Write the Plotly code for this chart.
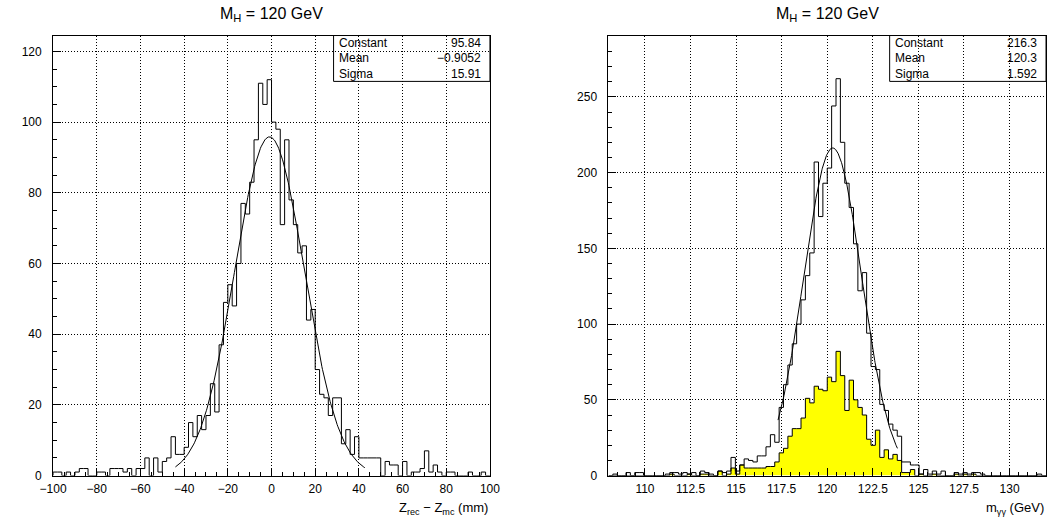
import numpy as np
import plotly.graph_objects as go

# ---------------- data ----------------
# Left: Z_rec - Z_mc (mm), 100 bins of width 2 from -100
z_lo, z_width = -100.0, 2.0
z_counts = [1, 1, 0, 1, 0, 1, 2, 2, 0, 0,
            1, 1, 0, 2, 2, 2, 1, 2, 0, 2,
            2, 5, 0, 5, 1, 4, 5, 11, 6, 6,
            8, 15, 11, 17, 13, 17, 26, 18, 37, 49,
            54, 48, 60, 77, 74, 83, 95, 111, 105, 112,
            100, 98, 71, 95, 78, 71, 63, 65, 44, 47,
            30, 23, 22, 17, 22, 22, 9, 13, 6, 11,
            5, 5, 5, 5, 5, 0, 4, 3, 3, 0,
            4, 0, 1, 1, 2, 7, 1, 3, 1, 0,
            1, 1, 0, 0, 0, 1, 0, 0, 1, 0]

# Right: m_gamma-gamma (GeV), 100 bins of width 0.24 from 108
m_lo, m_width = 108.0, 0.24
m_all = [0, 1, 0, 0, 2, 0, 2, 2, 0, 0,
         0, 0, 0, 1, 2, 2, 1, 2, 1, 2,
         0, 3, 2, 1, 0, 3, 2, 3, 12, 3,
         7, 11, 10, 9, 13, 13, 19, 27, 22, 45,
         60, 73, 87, 100, 116, 132, 147, 207, 171, 193,
         203, 244, 262, 220, 193, 177, 153, 122, 134, 94,
         72, 70, 47, 43, 34, 30, 26, 9, 9, 7,
         7, 1, 4, 1, 3, 1, 3, 0, 0, 2,
         1, 2, 1, 2, 2, 1, 0, 0, 0, 0,
         0, 0, 0, 0, 0, 0, 0, 0, 1, 0]
m_sel = [0, 0, 0, 0, 0, 0, 0, 0, 0, 0,
         0, 0, 0, 0, 1, 0, 0, 0, 1, 0,
         0, 1, 1, 0, 0, 3, 0, 1, 5, 1,
         7, 5, 5, 5, 5, 5, 6, 6, 9, 15,
         18, 26, 31, 31, 38, 51, 48, 59, 57, 56,
         65, 62, 82, 66, 43, 63, 50, 45, 40, 24,
         20, 30, 12, 17, 11, 14, 10, 2, 2, 4,
         0, 1, 0, 0, 1, 0, 0, 0, 0, 1,
         0, 1, 0, 1, 0, 0, 0, 0, 0, 0,
         0, 0, 0, 0, 0, 0, 0, 0, 0, 0]

# Gaussian fit results (as printed in the stat boxes) and drawn ranges
fit_left = {"Constant": 95.84, "Mean": -0.9052, "Sigma": 15.91}
fit_left_range = (-44.0, 42.8)
fit_right = {"Constant": 216.3, "Mean": 120.3, "Sigma": 1.592}
fit_right_range = (117.3, 123.85)

left_stats_text = ["95.84", "\u22120.9052", "15.91"]
right_stats_text = ["216.3", "120.3", "1.592"]
stat_names = ["Constant", "Mean", "Sigma"]

title_text = "M<sub>H</sub> = 120 GeV"
xtitle_left = "Z<sub>rec</sub> \u2212 Z<sub>mc</sub> (mm)"
xtitle_right = "m<sub>\u03b3\u03b3</sub> (GeV)"

# ---------------- helpers ----------------
def step_xy(lo, w, counts):
    edges = lo + w * np.arange(len(counts) + 1)
    x = [edges[0]] + list(edges[:-1]) + [edges[-1], edges[-1]]
    y = [0] + list(counts) + [counts[-1], 0]
    return x, y

def gauss(p, rng, n=300):
    x = np.linspace(rng[0], rng[1], n)
    y = p["Constant"] * np.exp(-0.5 * ((x - p["Mean"]) / p["Sigma"]) ** 2)
    return x, y

W, H = 1057, 527
FONT = "Liberation Sans"
px_l = (40, 487)
px_r = (608.3, 1056)
px_top, px_bot = 36, 482

def fx(p):
    return p / W

def fy(p):
    return (H - p) / H

fig = go.Figure()

xl, yl = step_xy(z_lo, z_width, z_counts)
fig.add_trace(go.Scatter(x=xl, y=yl, mode="lines", line=dict(color="black", width=1, shape="hv"),
                         xaxis="x", yaxis="y", showlegend=False, hoverinfo="skip"))
gx, gy = gauss(fit_left, fit_left_range)
fig.add_trace(go.Scatter(x=gx, y=gy, mode="lines", line=dict(color="black", width=1),
                         xaxis="x", yaxis="y", showlegend=False))

xs, ys = step_xy(m_lo, m_width, m_sel)
fig.add_trace(go.Scatter(x=xs, y=ys, mode="lines", fill="tozeroy", fillcolor="#ffff00",
                         line=dict(color="black", width=1, shape="hv"),
                         xaxis="x2", yaxis="y2", showlegend=False, hoverinfo="skip"))
xa, ya = step_xy(m_lo, m_width, m_all)
fig.add_trace(go.Scatter(x=xa, y=ya, mode="lines", line=dict(color="black", width=1, shape="hv"),
                         xaxis="x2", yaxis="y2", showlegend=False, hoverinfo="skip"))
gx2, gy2 = gauss(fit_right, fit_right_range)
fig.add_trace(go.Scatter(x=gx2, y=gy2, mode="lines", line=dict(color="black", width=1),
                         xaxis="x2", yaxis="y2", showlegend=False))

tickfont = dict(family=FONT, size=12, color="black")
grid = dict(showgrid=True, gridcolor="#000000", gridwidth=1, griddash="1px,2px")
common = dict(showline=True, linecolor="black", linewidth=1, mirror=True, zeroline=False,
              ticks="inside", ticklen=8, tickcolor="black", tickwidth=1, tickfont=tickfont,
              tickmode="linear", **grid)

fig.update_layout(
    width=W, height=H, margin=dict(l=0, r=0, t=0, b=0),
    paper_bgcolor="white", plot_bgcolor="white",
    xaxis=dict(domain=[fx(px_l[0]), fx(px_l[1])], range=[-100, 100], tick0=-100, dtick=20,
               anchor="y", ticklabelstandoff=2,
               minor=dict(tick0=-100, dtick=5, ticks="inside", ticklen=4, tickcolor="black", showgrid=False),
               **common),
    yaxis=dict(domain=[fy(px_bot), fy(px_top)], range=[0, 124.5], tick0=0, dtick=20, anchor="x",
               ticklabelstandoff=8,
               minor=dict(tick0=0, dtick=5, ticks="inside", ticklen=4, tickcolor="black", showgrid=False),
               **common),
    xaxis2=dict(domain=[fx(px_r[0]), fx(px_r[1])], range=[108, 132], tick0=110, dtick=2.5,
                anchor="y2", ticklabelstandoff=2,
                minor=dict(tick0=108, dtick=0.5, ticks="inside", ticklen=4, tickcolor="black", showgrid=False),
                **common),
    yaxis2=dict(domain=[fy(px_bot), fy(px_top)], range=[0, 290.5], tick0=0, dtick=50, anchor="x2",
                ticklabelstandoff=8,
                minor=dict(tick0=0, dtick=10, ticks="inside", ticklen=4, tickcolor="black", showgrid=False),
                **common),
)

annotations = []
shapes = []
for (x0, x1), stats in ((px_l, left_stats_text), (px_r, right_stats_text)):
    cx = (x0 + x1) / 2
    annotations.append(dict(text=title_text, x=fx(cx), y=fy(15), xref="paper", yref="paper",
                            xanchor="center", yanchor="middle", showarrow=False,
                            font=dict(family=FONT, size=16, color="black")))
    bx0 = x1 - 160
    shapes.append(dict(type="rect", xref="paper", yref="paper", x0=fx(bx0), x1=fx(x1),
                       y0=fy(82.5), y1=fy(px_top), line=dict(color="black", width=1),
                       fillcolor="rgba(0,0,0,0)", layer="above"))
    for i, (nm, val) in enumerate(zip(stat_names, stats)):
        yc = 43.8 + 15.4 * i
        annotations.append(dict(text=nm, x=fx(bx0 + 3), y=fy(yc), xref="paper", yref="paper",
                                xanchor="left", yanchor="middle", showarrow=False,
                                font=dict(family=FONT, size=12, color="black")))
        annotations.append(dict(text=val, x=fx(x1 - 7), y=fy(yc), xref="paper", yref="paper",
                                xanchor="right", yanchor="middle", showarrow=False,
                                font=dict(family=FONT, size=12, color="black")))

annotations.append(dict(text=xtitle_left, x=fx(px_l[1]), y=fy(515), xref="paper", yref="paper",
                        xanchor="right", yanchor="middle", showarrow=False,
                        font=dict(family=FONT, size=13, color="black")))
annotations.append(dict(text=xtitle_right, x=fx(px_r[1]), y=fy(515), xref="paper", yref="paper",
                        xanchor="right", yanchor="middle", showarrow=False,
                        font=dict(family=FONT, size=13, color="black")))

fig.update_layout(annotations=annotations, shapes=shapes)
fig.write_html("out.html")
